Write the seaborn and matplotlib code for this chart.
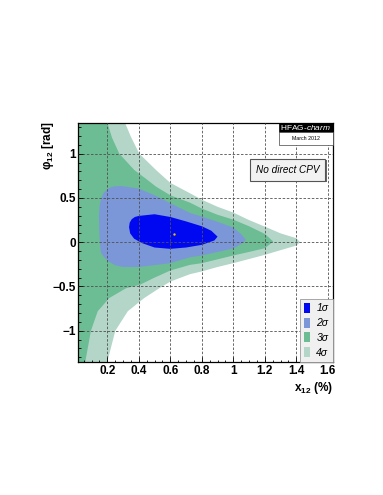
import numpy as np
import matplotlib
matplotlib.use("Agg")
import matplotlib.pyplot as plt
import matplotlib.patheffects as pe
from matplotlib.patches import Patch, Rectangle
import seaborn as sns

# contour boundaries (x12 in %, phi12 in rad)
sigma4_x = [-0.05, 0.29, 0.312, 0.35, 0.403, 0.509, 0.6, 0.725, 0.8, 0.9, 1.0, 1.1, 1.2, 1.3, 1.4, 1.424,
            1.4, 1.3, 1.2, 1.1, 1.0, 0.9, 0.8, 0.725, 0.6, 0.53, 0.435, 0.33, 0.251, 0.2, 0.19, -0.05]
sigma4_y = [1.6, 1.6, 1.35, 1.19, 1.0, 0.816, 0.67, 0.553, 0.48, 0.40, 0.335, 0.25, 0.176, 0.1, 0.045, 0.0,
            -0.038, -0.09, -0.143, -0.19, -0.237, -0.28, -0.33, -0.361, -0.445, -0.52, -0.63, -0.78, -1.0, -1.35, -1.6, -1.6]

sigma3_x = [-0.05, 0.18, 0.2, 0.23, 0.276, 0.371, 0.45, 0.509, 0.6, 0.725, 0.8, 0.9, 1.0, 1.1, 1.2, 1.254,
            1.2, 1.1, 1.0, 0.8, 0.725, 0.6, 0.5, 0.408, 0.319, 0.213, 0.139, 0.096, 0.06, 0.055, -0.05]
sigma3_y = [1.6, 1.6, 1.35, 1.18, 1.0, 0.816, 0.71, 0.628, 0.53, 0.447, 0.38, 0.31, 0.255, 0.18, 0.094, 0.007,
            -0.068, -0.11, -0.15, -0.237, -0.256, -0.32, -0.4, -0.48, -0.52, -0.63, -0.78, -1.0, -1.35, -1.6, -1.6]

sigma2_x = [0.155, 0.15, 0.147, 0.152, 0.162, 0.178, 0.2, 0.225, 0.25, 0.29, 0.4, 0.5, 0.6, 0.725, 0.8, 0.9, 1.0, 1.05, 1.08,
            1.05, 1.0, 0.9, 0.8, 0.725, 0.6, 0.4, 0.3, 0.25, 0.21, 0.185, 0.16]
sigma2_y = [-0.05, 0.1, 0.3, 0.42, 0.5, 0.56, 0.6, 0.622, 0.632, 0.635, 0.605, 0.53, 0.44, 0.33, 0.29, 0.23, 0.165, 0.09, 0.026,
            -0.02, -0.07, -0.11, -0.15, -0.17, -0.237, -0.28, -0.28, -0.26, -0.22, -0.18, -0.12]

sigma1_x = [0.338, 0.342, 0.355, 0.375, 0.4, 0.5, 0.6, 0.7, 0.8, 0.86, 0.9, 0.88, 0.8, 0.7, 0.6, 0.5, 0.42, 0.37, 0.345]
sigma1_y = [0.17, 0.22, 0.26, 0.285, 0.297, 0.316, 0.285, 0.235, 0.18, 0.13, 0.063, 0.02, -0.03, -0.06, -0.075, -0.06, -0.01, 0.04, 0.1]

best_x = [0.625]
best_y = [0.094]

levels = ["1σ", "2σ", "3σ", "4σ"]
colors = ["#0008f2", "#7b97d8", "#6cbc94", "#b3d6c9"]

x_ticks = [0.2, 0.4, 0.6, 0.8, 1.0, 1.2, 1.4, 1.6]
x_ticklabels = ["0.2", "0.4", "0.6", "0.8", "1", "1.2", "1.4", "1.6"]
y_ticks = [-1.0, -0.5, 0.0, 0.5, 1.0]
y_ticklabels = ["\u22121", "\u22120.5", "0", "0.5", "1"]

sns.set_style("ticks")
plt.rcParams["font.family"] = ["Liberation Sans", "DejaVu Sans"]
plt.rcParams["mathtext.fontset"] = "custom"
plt.rcParams["mathtext.rm"] = "Liberation Sans"
plt.rcParams["mathtext.bf"] = "Liberation Sans:bold"
plt.rcParams["mathtext.it"] = "Liberation Sans:italic"
plt.rcParams["text.color"] = "black"
plt.rcParams["xtick.color"] = "black"
plt.rcParams["ytick.color"] = "black"
plt.rcParams["xtick.labelcolor"] = "black"
plt.rcParams["ytick.labelcolor"] = "black"

fig = plt.figure(figsize=(3.83, 4.95), dpi=100)
ax = fig.add_axes([0.2029, 0.2693, 0.6653, 0.4828])

# outer regions first, inner on top
polys = [(sigma4_x, sigma4_y), (sigma3_x, sigma3_y), (sigma2_x, sigma2_y), (sigma1_x, sigma1_y)]
for (px, py), c in zip(polys, colors[::-1]):
    ax.fill(px, py, color=c, lw=0, zorder=1)

sns.scatterplot(x=best_x, y=best_y, ax=ax, color="#e8c000", s=3, linewidth=0, zorder=3)

ax.set_xlim(0.012, 1.63)
ax.set_ylim(-1.35, 1.35)
ax.set_xticks(x_ticks)
ax.set_xticklabels(x_ticklabels)
ax.set_yticks(y_ticks)
ax.set_yticklabels(y_ticklabels)
ax.xaxis.set_minor_locator(matplotlib.ticker.MultipleLocator(0.05))
ax.yaxis.set_minor_locator(matplotlib.ticker.MultipleLocator(0.1))
ax.tick_params(which="both", direction="in", top=False, right=False, width=0.6, color="black",
               labelcolor="black")
ax.tick_params(which="major", length=3.5)
ax.tick_params(which="minor", length=1.8)
ax.tick_params(axis="x", pad=2.5, labelsize=8.5)
ax.tick_params(axis="y", pad=1.0, labelsize=8.5)
for lab in ax.get_xticklabels() + ax.get_yticklabels():
    lab.set_fontweight("bold")

ax.set_axisbelow(False)
ax.grid(True, which="major", linestyle=(0, (3, 2)), color="#505050", linewidth=0.6)
for sp in ax.spines.values():
    sp.set_visible(True)
    sp.set_color("black")
    sp.set_linewidth(0.9)

fig.text(48 / 383, 1 - 121.7 / 495, "φ$_{\\mathbf{12}}$ [rad]", rotation=90, ha="center", va="top",
         fontsize=8.5, fontweight="bold", color="black")
fig.text(332.7 / 383, 1 - 388 / 495, "x$_{\\mathbf{12}}$ (%)", ha="right", va="center",
         fontsize=8.5, fontweight="bold", color="black")

# legend
handles = [Patch(facecolor=c, edgecolor="none", label=l) for l, c in zip(levels, colors)]
leg = ax.legend(handles=handles, loc="lower right", borderaxespad=0, fancybox=False,
                frameon=True, facecolor="#f0f0f0", edgecolor="#999999", framealpha=1,
                prop={"style": "italic", "size": 7.5}, handlelength=0.6, handleheight=1.1,
                labelspacing=0.4, handletextpad=0.6, borderpad=0.4, labelcolor="black")
leg.get_frame().set_linewidth(0.6)
leg.set_zorder(5)

# No direct CPV box
t = ax.text(0.824, 0.803, "No direct CPV", transform=ax.transAxes, ha="center", va="center",
            fontsize=7.2, fontstyle="italic", zorder=6, color="black",
            bbox=dict(boxstyle="square,pad=0.6", facecolor="#f2f2f2", edgecolor="#555555", linewidth=0.8))
t.get_bbox_patch().set_path_effects([pe.withSimplePatchShadow(offset=(1.2, -1.2), shadow_rgbFace="#666666", alpha=1)])

# HFAG-charm label
ax.add_patch(Rectangle((0.788, 0.961), 0.212, 0.039, transform=ax.transAxes, facecolor="black",
                       edgecolor="black", lw=0.5, clip_on=False, zorder=7))
ax.add_patch(Rectangle((0.788, 0.905), 0.212, 0.056, transform=ax.transAxes, facecolor="white",
                       edgecolor="#444444", lw=0.5, clip_on=False, zorder=7))
ax.text(0.894, 0.981, "HFAG-$\\mathit{charm}$", transform=ax.transAxes, ha="center", va="center",
        color="white", fontsize=6, zorder=8)
ax.text(0.894, 0.933, "March 2012", transform=ax.transAxes, ha="center", va="center",
        color="black", fontsize=3.8, zorder=8)

fig.savefig("out.png", dpi=100)
